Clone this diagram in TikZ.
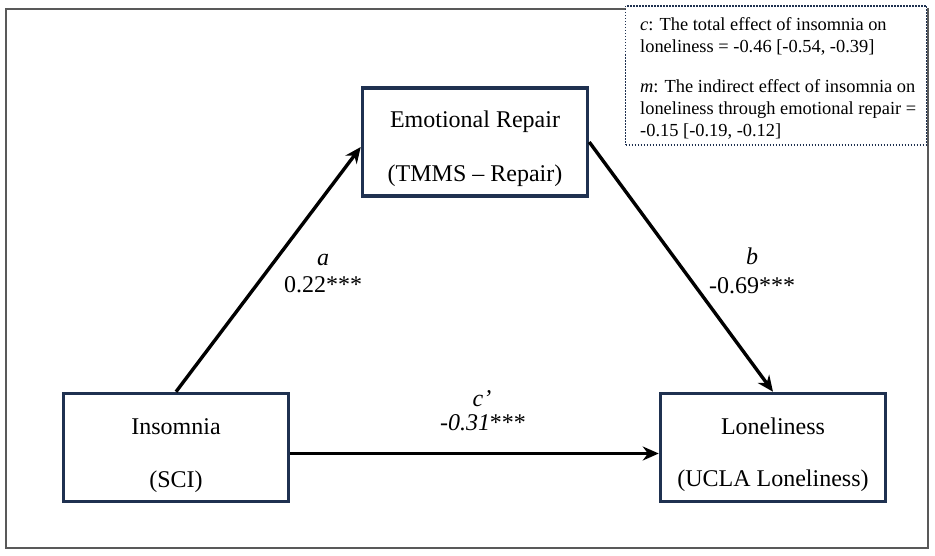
\documentclass[tikz,border=0pt]{standalone}
\usepackage{fontspec}
\setmainfont{Liberation Serif}
\usetikzlibrary{arrows.meta}
\definecolor{navy}{HTML}{1F3150}
\tikzset{
  varbox/.style={draw=navy, line width=3.5pt, minimum width=225pt, minimum height=108pt, inner sep=0pt},
  vtext/.style={anchor=base, inner sep=0pt, font=\fontsize{24}{29}\selectfont},
  ltext/.style={anchor=base, inner sep=0pt, font=\fontsize{24}{29}\selectfont},
  itext/.style={anchor=base west, inner sep=0pt, font=\fontsize{18.4}{22}\selectfont},
  path/.style={line width=3.4pt, -{Stealth[length=16pt,width=14pt]}},
}
\begin{document}
\begin{tikzpicture}[x=1pt,y=-1pt]
\useasboundingbox (0,0) rectangle (935,556);
% outer frame
\draw[line width=1.3pt, draw=black!65] (6,9) rectangle (928,548);
% info box
\node[draw=navy, line width=1.5pt, dash pattern=on 1.5pt off 1.5pt, minimum width=301pt, minimum height=139pt, inner sep=0pt, fill=white] (info) at (776,75.5) {};
\node[itext] (i1) at (640,31) {\textit{c}: The total effect of insomnia on};
\node[itext] (i2) at (640,53) {loneliness = -0.46 [-0.54, -0.39]};
\node[itext] (i3) at (640,93) {\textit{m}: The indirect effect of insomnia on};
\node[itext] (i4) at (640,115) {loneliness through emotional repair =};
\node[itext] (i5) at (640,137) {-0.15 [-0.19, -0.12]};
% boxes
\node[varbox] (er) at (475,142) {};
\node[vtext] (er1) at (475,128) {Emotional Repair};
\node[vtext] (er2) at (475,182) {(TMMS – Repair)};
\node[varbox] (ins) at (176,447.5) {};
\node[vtext] (ins1) at (176,434) {Insomnia};
\node[vtext] (ins2) at (176,487) {(SCI)};
\node[varbox] (lon) at (773,447.5) {};
\node[vtext] (lon1) at (773,434) {Loneliness};
\node[vtext] (lon2) at (773,486) {(UCLA Loneliness)};
% paths
\draw[path] (ins.north) -- ([yshift=-5pt]er.west);
\draw[path] (er.east) -- (lon.north);
\draw[path] ([yshift=-6pt]ins.east) -- ([yshift=-6pt]lon.west);
% labels
\node[ltext] (la) at (323,266) {\textit{a}};
\node[ltext] (lav) at (323,293) {0.22***};
\node[ltext] (lb) at (752,265) {\textit{b}};
\node[ltext] (lbv) at (752,294) {-0.69***};
\node[ltext] (lc) at (482,406) {\textit{c\symbol{"27}}};
\node[ltext] (lcv) at (483,430) {\textit{-0.31}***};
\end{tikzpicture}
\end{document}
